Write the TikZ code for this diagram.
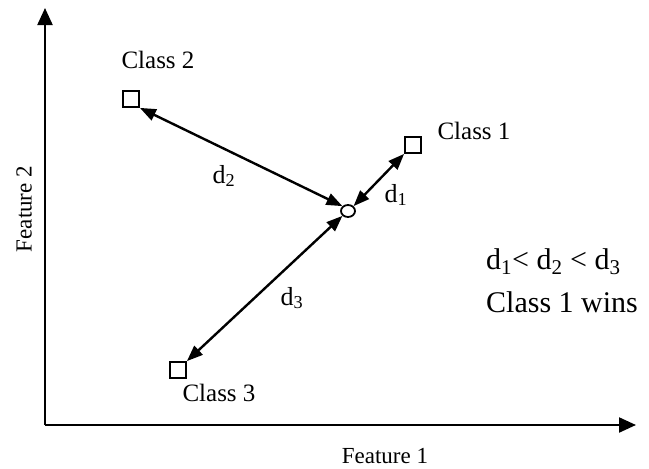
\documentclass[tikz,border=0pt]{standalone}
\usepackage{fontspec}
\setmainfont{Liberation Serif}
\usetikzlibrary{arrows.meta,shapes.geometric}
\newcommand\dsub[1]{d\textsubscript{#1}}
\tikzset{
  px/.style={x=1pt,y=-1pt},
  axis/.style={line width=2.2pt,-{Triangle[length=17pt,width=15pt]}},
  dist/.style={line width=2.4pt,{Triangle[length=16pt,width=12pt]}-{Triangle[length=16pt,width=12pt]}},
  cls/.style={draw,line width=1.8pt,minimum size=16pt,inner sep=0pt},
  qry/.style={draw,line width=1.8pt,ellipse,minimum width=14pt,minimum height=12pt,inner sep=0pt},
  lab/.style={font=\fontsize{25}{28}\selectfont,inner sep=0pt},
  dl/.style={font=\fontsize{26}{28}\selectfont,inner sep=0pt},
  big/.style={font=\fontsize{30}{36}\selectfont,inner sep=0pt,anchor=west},
  feat/.style={font=\fontsize{23}{26}\selectfont,inner sep=0pt}
}
\begin{document}
\begin{tikzpicture}[px]
\useasboundingbox (0,0) rectangle (649,469);
\coordinate (O) at (45,425);
\coordinate (X) at (636,425);
\coordinate (Y) at (45,8);
\draw[axis] (O) -- (X);
\draw[axis] (O) -- (Y);
\node[cls] (c2) at (131,99) {};
\node[cls] (c1) at (413,145) {};
\node[cls] (c3) at (178,370) {};
\node[qry] (q) at (348,211) {};
\draw[dist] (c2.south east) -- (q.north west);
\draw[dist] (q.north east) -- (c1.south west);
\draw[dist] (q.south west) -- (c3.north east);
\node[lab] (l2) at (158,60) {Class 2};
\node[lab] (l1) at (474,131) {Class 1};
\node[lab] (l3) at (219,393) {Class 3};
\node[dl] (d2) at (224,176) {\dsub{2}};
\node[dl] (d1) at (396,195) {\dsub{1}};
\node[dl] (d3) at (292,298) {\dsub{3}};
\node[big] (r1) at (486,262) {\dsub{1}< \dsub{2} < \dsub{3}};
\node[big] (r2) at (486,302) {Class 1 wins};
\node[feat] (f1) at (385,456) {Feature 1};
\node[feat,rotate=90] (f2) at (24,209) {Feature 2};
\end{tikzpicture}
\end{document}
